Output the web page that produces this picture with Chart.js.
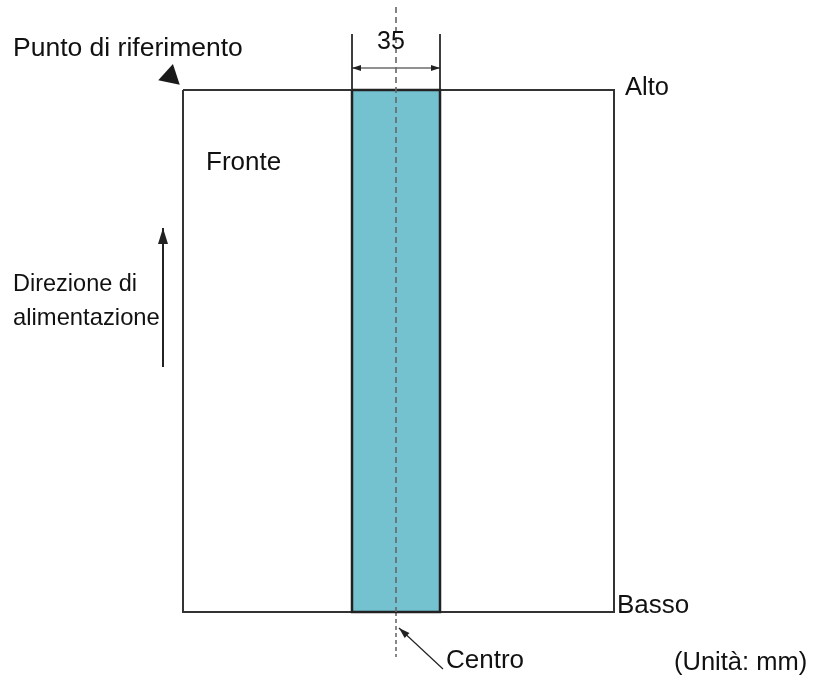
<!DOCTYPE html>
<html>
<head>
<meta charset="utf-8">
<script src="https://cdn.jsdelivr.net/npm/chart.js@4.4.1/dist/chart.umd.min.js"></script>
<style>
  body { margin: 0; background: #fff; }
  #wrap { width: 813px; height: 685px; }
</style>
</head>
<body>
<div id="wrap"><canvas id="myChart" width="813" height="685"></canvas></div>
<script>
// diagram geometry (page coordinates, y grows downward)
const pageX = [183, 614, 614, 183, 183];
const pageY = [90, 90, 612, 612, 90];
const stripX = [352, 440, 440, 352, 352];
const stripY = [90, 90, 612, 612, 90];
const centerX = [396, 396];
const centerTopY = [7, 612];
const centerBottomY = [612, 657];
const dimX = [352, 440];
const dimY = [68, 68];
const extLeftX = [352, 352];
const extRightX = [440, 440];
const extY = [34, 90];
const feedX = [163, 163];
const feedY = [367, 228];
const leaderX = [443, 399];
const leaderY = [669, 628];
const refMarkX = [170.3];
const refMarkY = [76.3];

const labelTexts = ["Punto di riferimento", "35", "Alto", "Fronte", "Direzione di", "alimentazione", "Basso", "Centro", "(Unità: mm)"];
const labelX = [13, 377, 625, 206, 13, 13, 617, 446, 674];
const labelY = [56, 49, 95, 170, 291, 325, 613, 668, 670];
const labelSize = [26.5, 25, 25.5, 26, 23.5, 23.8, 26, 26, 25.5];

const pts = (xs, ys) => xs.map((x, i) => ({ x: x, y: ys[i] }));

function lineSet(data, color, width, extra) {
  return Object.assign({
    data: data,
    showLine: true,
    borderColor: color,
    borderWidth: width,
    pointRadius: 0,
    fill: false,
    tension: 0,
  }, extra || {});
}

const arrowPlugin = {
  id: "arrows",
  afterDatasetsDraw(chart) {
    const ctx = chart.ctx;
    chart.data.datasets.forEach((ds, i) => {
      if (!ds.arrow) return;
      const p = chart.getDatasetMeta(i).data;
      const heads = [];
      if (ds.arrow.end) heads.push([p[p.length - 2], p[p.length - 1]]);
      if (ds.arrow.start) heads.push([p[1], p[0]]);
      heads.forEach(([a, b]) => {
        const ang = Math.atan2(b.y - a.y, b.x - a.x);
        const len = ds.arrow.len, half = ds.arrow.half;
        ctx.save();
        ctx.translate(b.x, b.y);
        ctx.rotate(ang);
        ctx.beginPath();
        ctx.moveTo(0, 0);
        ctx.lineTo(-len, -half);
        ctx.lineTo(-len, half);
        ctx.closePath();
        ctx.fillStyle = ds.borderColor;
        ctx.fill();
        ctx.restore();
      });
    });
  },
};

const labelPlugin = {
  id: "labels",
  afterDraw(chart) {
    const ctx = chart.ctx;
    const xs = chart.scales.x, ys = chart.scales.y;
    ctx.save();
    ctx.fillStyle = "#111";
    ctx.textBaseline = "alphabetic";
    ctx.textAlign = "left";
    labelTexts.forEach((t, i) => {
      ctx.font = labelSize[i] + 'px "Liberation Sans", Arial, sans-serif';
      ctx.fillText(t, xs.getPixelForValue(labelX[i]), ys.getPixelForValue(labelY[i]));
    });
    ctx.restore();
  },
};

const ctx = document.getElementById("myChart");
new Chart(ctx, {
  type: "scatter",
  data: {
    datasets: [
      lineSet(pts(centerX, centerTopY), "#666", 1.6, { borderDash: [6, 4] }),
      lineSet(pts(centerX, centerBottomY), "#111", 1, { borderDash: [4, 3] }),
      lineSet(pts(stripX, stripY), "#222", 2.5, { fill: "shape", backgroundColor: "#74c2cf" }),
      lineSet(pts(pageX, pageY), "#333", 2),
      lineSet(pts(extLeftX, extY), "#222", 1),
      lineSet(pts(extRightX, extY), "#222", 1),
      lineSet(pts(dimX, dimY), "#222", 1, { arrow: { start: true, end: true, len: 9, half: 3 } }),
      lineSet(pts(feedX, feedY), "#222", 2, { arrow: { end: true, len: 16, half: 5 } }),
      lineSet(pts(leaderX, leaderY), "#222", 1.2, { arrow: { end: true, len: 11, half: 3.5 } }),
      {
        data: pts(refMarkX, refMarkY),
        pointStyle: "triangle",
        pointRadius: 12.7,
        pointRotation: 12,
        backgroundColor: "#1a1a1a",
        borderColor: "#1a1a1a",
        borderWidth: 0,
      },
    ],
  },
  options: {
    responsive: false,
    animation: false,
    events: [],
    layout: { padding: 0, autoPadding: false },
    plugins: { legend: { display: false }, tooltip: { enabled: false } },
    scales: {
      x: { type: "linear", min: 0, max: 813, display: false },
      y: { type: "linear", min: 0, max: 685, reverse: true, display: false },
    },
  },
  plugins: [arrowPlugin, labelPlugin],
});
</script>
</body>
</html>
